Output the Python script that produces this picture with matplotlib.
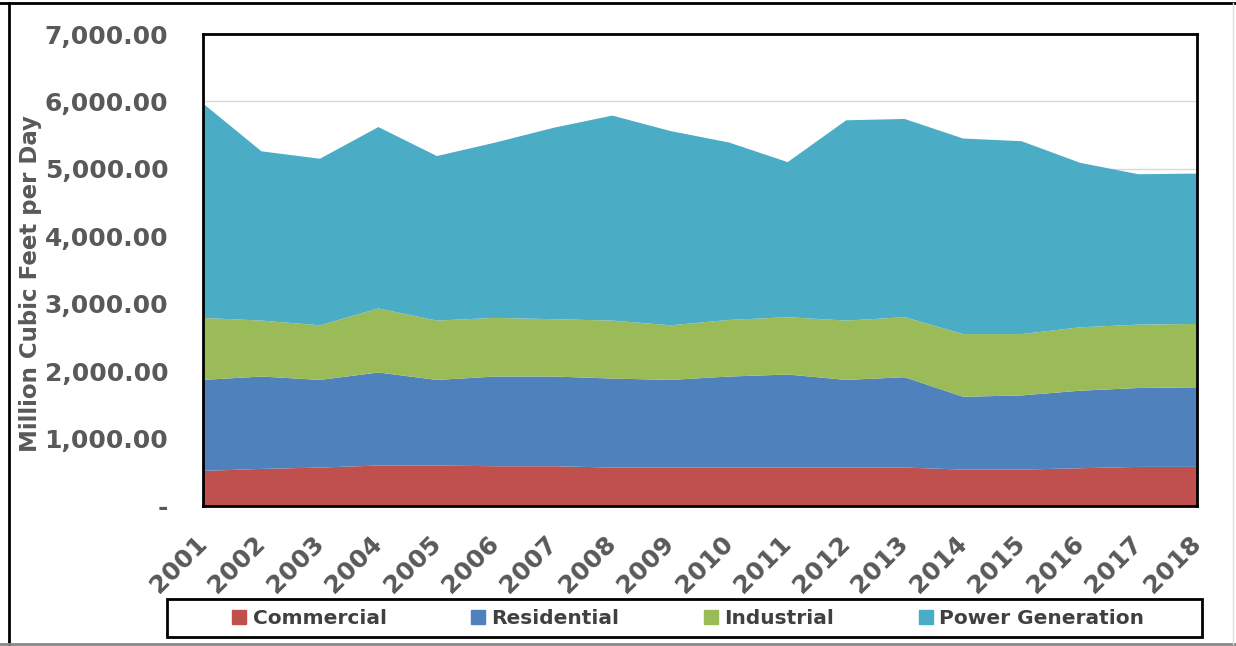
import matplotlib
matplotlib.use("Agg")
import matplotlib.pyplot as plt
from matplotlib.patches import Rectangle
from matplotlib.lines import Line2D
from matplotlib.ticker import FuncFormatter
import numpy as np

years = list(range(2001, 2019))
commercial = [520, 550, 570, 600, 600, 590, 590, 570, 570, 570, 570, 570, 570, 540, 540, 560, 580, 580]
residential = [1350, 1370, 1300, 1380, 1270, 1330, 1330, 1320, 1300, 1350, 1380, 1300, 1340, 1080, 1100, 1150, 1170, 1180]
industrial = [920, 830, 810, 950, 880, 870, 850, 860, 810, 840, 850, 880, 890, 930, 910, 940, 940, 940]
power = [3180, 2510, 2470, 2690, 2440, 2600, 2840, 3040, 2880, 2630, 2300, 2970, 2940, 2900, 2860, 2440, 2230, 2230]
series_names = ["Commercial", "Residential", "Industrial", "Power Generation"]
colors = ["#C0504D", "#4F81BD", "#9BBB59", "#4BACC6"]

W, H = 1236, 646
fig = plt.figure(figsize=(W / 100, H / 100), dpi=100)
ax = fig.add_axes([203 / W, 1 - 506 / H, (1197 - 203) / W, (506 - 34) / H])

ax.stackplot(years, commercial, residential, industrial, power, colors=colors,
             edgecolor="none", zorder=2)

ax.set_xlim(years[0], years[-1])
ax.set_ylim(0, 7000)
ax.set_yticks(np.arange(0, 7001, 1000))
ax.yaxis.set_major_formatter(FuncFormatter(lambda v, p: "-" if v == 0 else f"{v:,.2f}"))
ax.grid(axis="y", color="#D9D9D9", lw=1, zorder=0)
ax.set_axisbelow(True)
ax.set_xticks(years)
ax.set_xticklabels([str(y) for y in years], rotation=45, ha="right", va="center",
                   rotation_mode="anchor", fontsize=18, fontweight="bold", color="#595959")
for lab in ax.get_yticklabels():
    lab.set_fontsize(18)
    lab.set_fontweight("bold")
    lab.set_color("#595959")
ax.tick_params(axis="both", length=0)
ax.tick_params(axis="y", pad=25)
ax.tick_params(axis="x", pad=24)
for s in ax.spines.values():
    s.set_color("black")
    s.set_linewidth(2)

fig.text(31 / W, 1 - 284 / H, "Million Cubic Feet per Day", rotation=90, ha="center", va="center",
         fontsize=16.5, fontweight="bold", color="#595959")

# legend box
fig.patches.append(Rectangle((167 / W, 1 - 637 / H), (1202 - 167) / W, (637 - 599) / H,
                             transform=fig.transFigure, fill=False, edgecolor="black", lw=2))
handles = [Line2D([], [], marker="s", linestyle="none", markersize=9.4,
                  markerfacecolor=c, markeredgecolor=c) for c in colors]
leg = fig.legend(handles, series_names, loc="center", ncol=4,
                 bbox_to_anchor=(688 / W, 1 - 619 / H),
                 frameon=False, handlelength=0.7, handletextpad=0.3, columnspacing=4.2,
                 prop={"size": 14.5, "weight": "bold"})
for t in leg.get_texts():
    t.set_color("#404040")

# outer frame
fig.add_artist(Line2D([9 / W, 9 / W], [1 - 3 / H, 0], transform=fig.transFigure, color="black", lw=2))
fig.add_artist(Line2D([0, 1], [1 - 3 / H, 1 - 3 / H], transform=fig.transFigure, color="black", lw=2))
fig.add_artist(Line2D([0, 1], [1 - 644 / H, 1 - 644 / H], transform=fig.transFigure, color="#888888", lw=2))
fig.add_artist(Line2D([1233 / W, 1233 / W], [1 - 3 / H, 1 - 644 / H], transform=fig.transFigure, color="#DDDDDD", lw=1))

fig.savefig("out.png", dpi=100)
